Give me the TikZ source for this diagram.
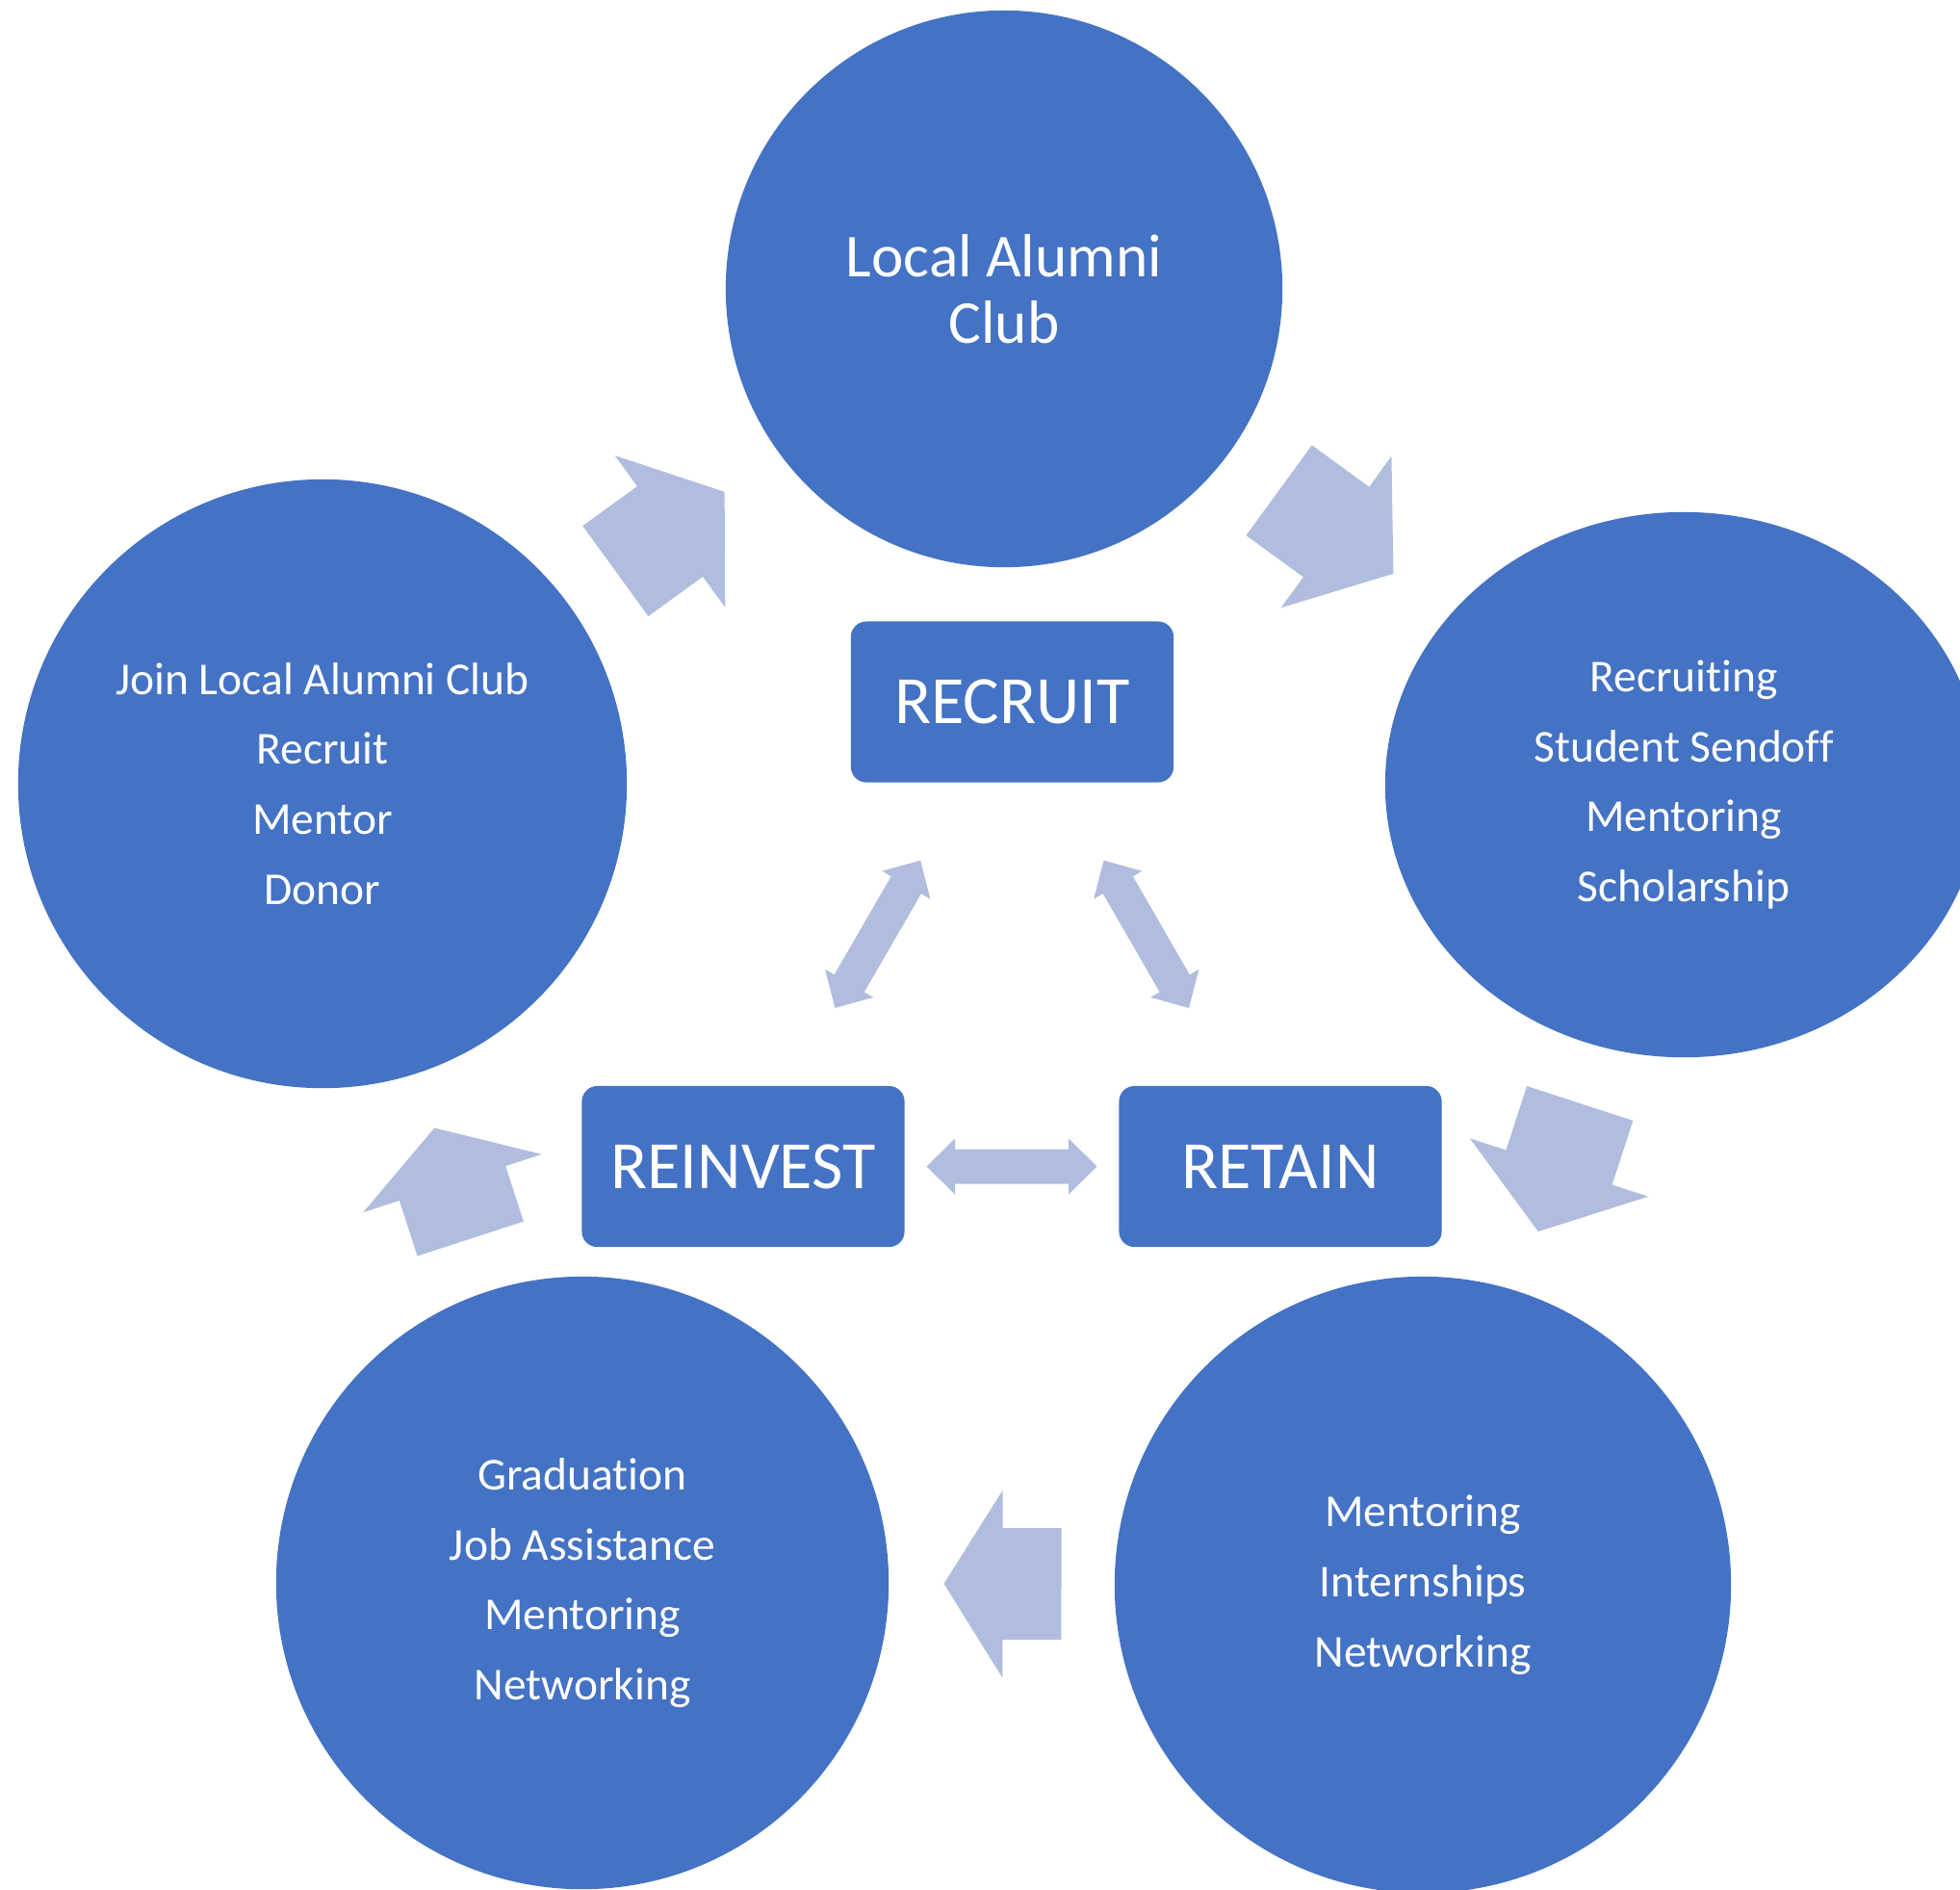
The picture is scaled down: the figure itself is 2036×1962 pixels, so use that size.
\documentclass[tikz,border=0pt]{standalone}
\usepackage{fontspec}
\setmainfont{Carlito}[Ligatures={NoCommon,NoContextual}, Contextuals=NoAlternate]
\usetikzlibrary{shapes.geometric,calc}

\definecolor{stageblue}{RGB}{68,114,196}
\definecolor{flowblue}{RGB}{176,189,222}

\tikzset{
  bubble/.style={circle, fill=stageblue, text=white, inner sep=0pt, align=center,
    font=\fontsize{13.5}{20.7}\selectfont},
  stage/.style={rectangle, rounded corners=0.16cm, fill=stageblue, text=white,
    minimum width=3.35cm, minimum height=1.67cm, font=\fontsize{20}{24}\selectfont},
}

% fat arrow halfway between two nodes, pointing from #2 to #3, length #4,
% nudged by the optional offset #1
\newcommand{\cyclearrow}[4][0,0]{%
  \pgfmathanglebetweenpoints{\pgfpointanchor{#2}{center}}{\pgfpointanchor{#3}{center}}%
  \let\arrowangle\pgfmathresult
  \begin{scope}[shift={($(#2.center)!0.5!(#3.center)+(#1)$)}, rotate=\arrowangle]
    \fill[flowblue] (-#4/2,-58) -- (0,-58) -- (0,-97.5) -- (#4/2,0)
      -- (0,97.5) -- (0,58) -- (-#4/2,58) -- cycle;
  \end{scope}}

% two-headed arrow halfway between two boxes
\newcommand{\twowayarrow}[2]{%
  \pgfmathanglebetweenpoints{\pgfpointanchor{#1}{center}}{\pgfpointanchor{#2}{center}}%
  \let\arrowangle\pgfmathresult
  \begin{scope}[shift={($(#1.center)!0.5!(#2.center)$)}, rotate=\arrowangle]
    \fill[flowblue] (-88.5,0) -- (-59,-29) -- (-59,-18) -- (59,-18) -- (59,-29)
      -- (88.5,0) -- (59,29) -- (59,18) -- (-59,18) -- (-59,29) -- cycle;
  \end{scope}}

\begin{document}
\begin{tikzpicture}[x=0.01cm,y=-0.01cm]
\useasboundingbox (0,0) rectangle (2036,1962);
\clip (0,0) rectangle (2036,1962);

% the five stages of the cycle
\node[bubble, minimum size=5.78cm, font=\fontsize{18}{19.5}\selectfont] (club) at (1043,300) {Local Alumni\\Club};
\node[bubble, ellipse, minimum width=6.2cm, minimum height=5.66cm] (student) at (1749,815)
  {Recruiting\\Student Sendoff\\Mentoring\\Scholarship};
\node[bubble, minimum size=6.4cm] (campus) at (1478,1646) {Mentoring\\Internships\\Networking};
\node[bubble, minimum size=6.36cm] (graduate) at (605,1644)
  {Graduation\\Job Assistance\\Mentoring\\Networking};
\node[bubble, minimum size=6.32cm] (alumnus) at (335,814)
  {Join Local Alumni Club\\Recruit\\Mentor\\Donor};

% the three boxes in the middle
\node[stage] (recruit) at (1051.5,729) {RECRUIT};
\node[stage] (reinvest) at (772,1211.5) {REINVEST};
\node[stage] (retain) at (1330,1211.5) {RETAIN};

% arrows round the outside
\cyclearrow[7,-5]{alumnus}{club}{140}
\cyclearrow[-8,-5]{club}{student}{147}
\cyclearrow[6,-18]{student}{campus}{140}
\cyclearrow{campus}{graduate}{122}
\cyclearrow{graduate}{alumnus}{121}

% arrows between the boxes
\twowayarrow{reinvest}{recruit}
\twowayarrow{recruit}{retain}
\twowayarrow{reinvest}{retain}
\end{tikzpicture}
\end{document}
